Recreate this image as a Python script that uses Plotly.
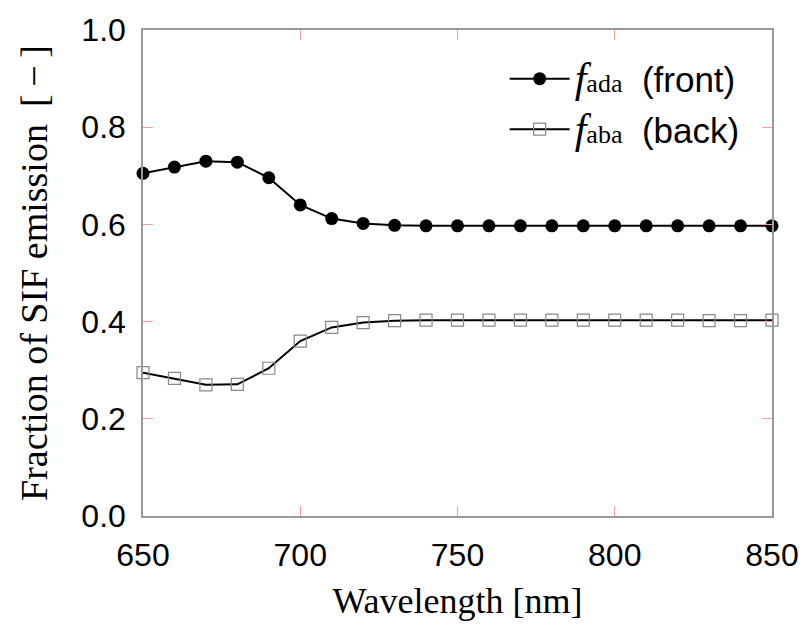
import plotly.graph_objects as go

wavelength = [650, 660, 670, 680, 690, 700, 710, 720, 730, 740, 750, 760, 770, 780,
              790, 800, 810, 820, 830, 840, 850]
f_ada = [0.705, 0.718, 0.730, 0.728, 0.696, 0.640, 0.612, 0.602, 0.598, 0.597, 0.597,
         0.597, 0.597, 0.597, 0.597, 0.597, 0.597, 0.597, 0.597, 0.597, 0.597]
f_aba = [0.295, 0.283, 0.270, 0.271, 0.304, 0.360, 0.388, 0.398, 0.402, 0.403, 0.403,
         0.403, 0.403, 0.403, 0.403, 0.403, 0.403, 0.403, 0.402, 0.402, 0.403]
x_ticks = [650, 700, 750, 800, 850]
y_ticks = [0.0, 0.2, 0.4, 0.6, 0.8, 1.0]

SERIF = "Liberation Serif"
SANS = "Liberation Sans"

def lname(sub, word):
    return (f'<span style="font-family:{SERIF};font-size:42px"><i>f</i></span>'
            f'<span style="font-family:{SERIF};font-size:26px">{sub}</span>'
            f'<span style="font-family:{SANS}">  {word}</span>')

fig = go.Figure()
fig.add_trace(go.Scatter(
    x=wavelength, y=f_ada, mode="lines+markers", name=lname("ada", "(front)"),
    legendgroup="a",
    line=dict(color="black", width=2),
    marker=dict(symbol="circle", size=13, color="black"),
    cliponaxis=False,
))
fig.add_trace(go.Scatter(
    x=wavelength, y=f_aba, mode="lines+markers", name=lname("aba", "(back)"),
    legendgroup="b",
    line=dict(color="black", width=2),
    marker=dict(symbol="square-open", size=12, color="#888888", line=dict(width=1.2)),
    cliponaxis=False,
))

axis_common = dict(
    showgrid=False, zeroline=False, showline=True, linecolor="#999999", linewidth=1.5,
    mirror="ticks", ticks="inside", ticklen=10, tickcolor="#f4a0a0", tickwidth=1,
    tickfont=dict(family=SANS, size=32, color="black"),
)

fig.update_layout(
    width=811, height=631,
    margin=dict(l=143, r=34, t=30, b=115),
    paper_bgcolor="white", plot_bgcolor="white",
    showlegend=True,
    legend=dict(x=0.575, y=0.96, xanchor="left", yanchor="top",
                bgcolor="rgba(0,0,0,0)", itemwidth=60, tracegroupgap=2,
                font=dict(family=SANS, size=35, color="black")),
    xaxis=dict(range=[650, 850], tickvals=x_ticks, ticktext=[str(v) for v in x_ticks],
               ticklabelstandoff=10,
               title=dict(text="Wavelength [nm]",
                          font=dict(family=SERIF, size=36, color="black"), standoff=16),
               **axis_common),
    yaxis=dict(range=[0, 1.0], tickvals=y_ticks, ticktext=[f"{v:.1f}" for v in y_ticks],
               ticklabelstandoff=9,
               title=dict(text="Fraction of SIF emission \u2009[\u2009\u2212\u2009]",
                          font=dict(family=SERIF, size=38, color="black"), standoff=22),
               **axis_common),
)

fig.write_html("out.html")
